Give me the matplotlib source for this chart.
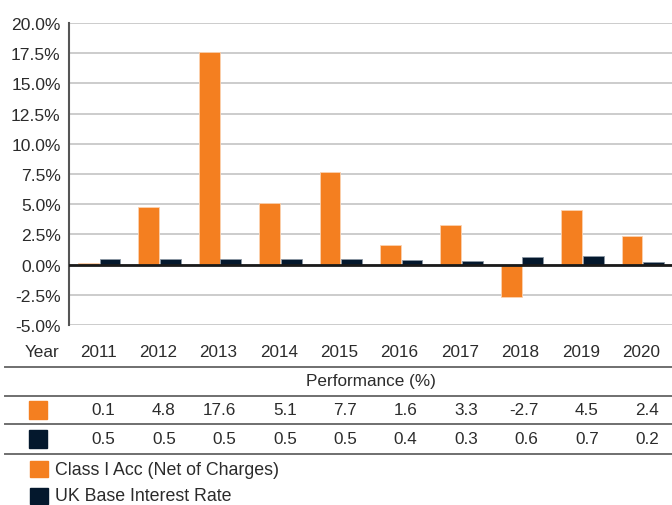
import matplotlib
matplotlib.use("Agg")

import matplotlib.pyplot as plt
import matplotlib.transforms as mtransforms
from matplotlib.lines import Line2D
from matplotlib.patches import Rectangle
import numpy as np

years = ["2011", "2012", "2013", "2014", "2015", "2016", "2017", "2018", "2019", "2020"]
fund_perf = [0.1, 4.8, 17.6, 5.1, 7.7, 1.6, 3.3, -2.7, 4.5, 2.4]
base_rate = [0.5, 0.5, 0.5, 0.5, 0.5, 0.4, 0.3, 0.6, 0.7, 0.2]
series_names = ["Class I Acc (Net of Charges)", "UK Base Interest Rate"]
y_ticks = [-5.0, -2.5, 0.0, 2.5, 5.0, 7.5, 10.0, 12.5, 15.0, 17.5, 20.0]

ORANGE = "#F47F20"
NAVY = "#04182D"
TEXT = "#2b2b2b"

W, H = 672, 506
plt.rcParams["font.family"] = ["Liberation Sans", "DejaVu Sans"]

fig = plt.figure(figsize=(W / 100, H / 100), dpi=100)
ax = fig.add_axes([69 / W, 1 - 326 / H, 604 / W, 302 / H])

x = np.arange(len(years))
bw = 0.345
ax.bar(x - 0.18, fund_perf, bw, color=ORANGE, edgecolor="#fbd2b0", linewidth=0.6, zorder=3)
ax.bar(x + 0.18, base_rate, bw, color=NAVY, edgecolor="#8a96a3", linewidth=0.6, zorder=3)

ax.set_xlim(-0.5, len(years) - 0.5)
ax.set_ylim(-5, 20)
ax.set_yticks(y_ticks)
ax.set_yticklabels([f"{v:.1f}%" for v in y_ticks], fontsize=12.6, color=TEXT)
ax.tick_params(axis="y", length=0, pad=6)
ax.set_xticks([])
ax.grid(axis="y", color="#cccccc", linewidth=1.4, zorder=0)
ax.axhline(0, color="#1a1a1a", linewidth=2, zorder=4)
for s in ["top", "right", "bottom"]:
    ax.spines[s].set_visible(False)
ax.spines["left"].set_color("#555555")
ax.spines["left"].set_linewidth(1.5)

# table below the chart: x in data coords, y in figure coords
tr = mtransforms.blended_transform_factory(ax.transData, fig.transFigure)


def fy(py):
    return 1 - py / H


fs = 12.3
fig.text(25 / W, fy(353), "Year", fontsize=fs, color=TEXT, va="center", ha="left")
for i, yr in enumerate(years):
    ax.text(i + 0.29, fy(353), yr, transform=tr, fontsize=fs, color=TEXT,
            ha="right", va="center", clip_on=False)

fig.text(0.5 * (69 + 673) / W, fy(382), "Performance (%)", fontsize=fs, color=TEXT,
         ha="center", va="center")

for i in range(len(years)):
    ax.text(i + 0.27, fy(411), f"{fund_perf[i]:.1f}", transform=tr, fontsize=fs, color=TEXT,
            ha="right", va="center", clip_on=False)
    ax.text(i + 0.27, fy(440), f"{base_rate[i]:.1f}", transform=tr, fontsize=fs, color=TEXT,
            ha="right", va="center", clip_on=False)

for py in [368, 397, 425, 455]:
    fig.add_artist(Line2D([5 / W, 1], [fy(py), fy(py)], color="#6f6f6f", linewidth=1.4))

for px, py, w, h, col in [(29, 411, 18, 18, ORANGE), (29, 440, 18, 18, NAVY),
                          (30, 470, 18, 16, ORANGE), (30, 497, 18, 16, NAVY)]:
    fig.add_artist(Rectangle((px / W, fy(py + h / 2)), w / W, h / H, color=col,
                             transform=fig.transFigure))

fig.text(55 / W, fy(471), series_names[0], fontsize=12.8, color=TEXT, va="center", ha="left")
fig.text(55 / W, fy(497), series_names[1], fontsize=12.8, color=TEXT, va="center", ha="left")

fig.savefig("out.png", dpi=100)
